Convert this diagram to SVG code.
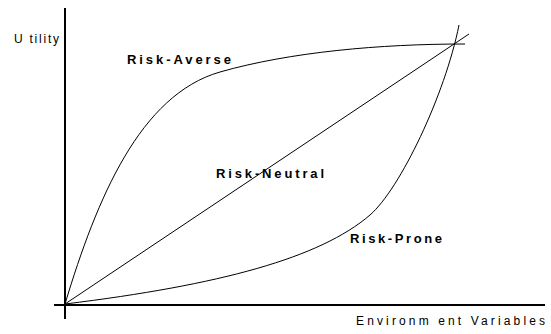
<svg xmlns="http://www.w3.org/2000/svg" width="551" height="334" viewBox="0 0 551 334">
  <style>
    .axis { stroke: #000; stroke-width: 2; fill: none; }
    .curve { stroke: #000; stroke-width: 1; fill: none; }
    .lbl { font-family: "Liberation Sans", Arial, sans-serif; font-size: 12px; fill: #000; }
    .bold { font-weight: bold; font-size: 13px; }
  </style>
  <rect width="551" height="334" fill="#fff"/>
  <g id="axes">
    <line class="axis" x1="65" y1="8" x2="65" y2="319"/>
    <line class="axis" x1="54" y1="305" x2="545" y2="305"/>
  </g>
  <g id="connectors">
    <path id="averse" class="curve" d="M65,304 C97,198 140,95 220,72 C290,52 380,44 465,44"/>
    <line id="neutral" class="curve" x1="65" y1="304" x2="469" y2="34"/>
    <path id="prone" class="curve" d="M65,304 C220,285 320,258 370,215 C400,189 445,95 459,25"/>
  </g>
  <g id="labels">
    <text class="lbl" x="14" y="43" textLength="45" lengthAdjust="spacing">U tility</text>
    <text class="lbl bold" x="127" y="64" textLength="104" lengthAdjust="spacing">Risk-Averse</text>
    <text class="lbl bold" x="216" y="178" textLength="108" lengthAdjust="spacing">Risk-Neutral</text>
    <text class="lbl bold" x="350" y="243" textLength="92" lengthAdjust="spacing">Risk-Prone</text>
    <text class="lbl" x="356" y="325" textLength="189" lengthAdjust="spacing">Environm ent Variables</text>
  </g>
</svg>
